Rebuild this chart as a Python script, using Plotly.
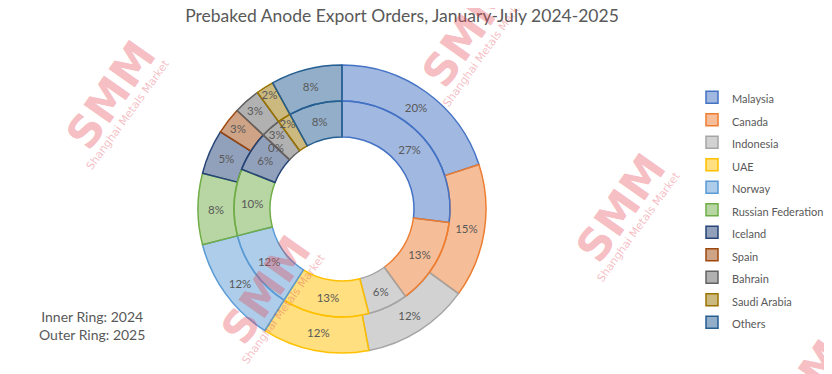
import math
import plotly.graph_objects as go

countries = ["Malaysia", "Canada", "Indonesia", "UAE", "Norway", "Russian Federation",
             "Iceland", "Spain", "Bahrain", "Saudi Arabia", "Others"]
share_2024 = [27, 13, 6, 13, 12, 10, 6, 0, 3, 2, 8]
share_2025 = [20, 15, 12, 12, 12, 8, 5, 3, 3, 2, 8]
base_colors = ["#4472C4", "#ED7D31", "#A5A5A5", "#FFC000", "#5B9BD5", "#70AD47",
               "#264478", "#9E480E", "#636363", "#997300", "#255E91"]

def rgba(h, a):
    h = h.lstrip("#")
    r, g, b = int(h[0:2], 16), int(h[2:4], 16), int(h[4:6], 16)
    return f"rgba({r},{g},{b},{a})"

fills = [rgba(c, 0.5) for c in base_colors]
W, H = 832, 374
OFF = 8  # page body margin offset

def px(x):
    return (x - OFF) / W

def py(y):
    return 1 - (y - OFF) / H

cx, cy = 342 - OFF, 209 - OFF
R_out, R_mid, R_in = 144, 108, 72

def dom(r):
    return dict(x=[(cx - r) / W, (cx + r) / W],
                y=[(H - cy - r) / H, (H - cy + r) / H])

legend_labels = [f"<span style='font-size:11px'>{c}</span>" for c in countries]
TXT = dict(color="#595959", size=11.5, family="Lato")

def templates(vals):
    return ["%{value}%" if v > 0 else "" for v in vals]

fig = go.Figure()
fig.add_trace(go.Pie(
    labels=legend_labels, values=share_2025, sort=False, direction="clockwise",
    rotation=0, hole=R_mid / R_out, domain=dom(R_out),
    marker=dict(colors=fills, line=dict(color=base_colors, width=1.5)),
    texttemplate=templates(share_2025), textposition="inside",
    insidetextorientation="horizontal", textfont=TXT,
    hoverinfo="label+value", showlegend=True,
))
fig.add_trace(go.Pie(
    labels=legend_labels, values=share_2024, sort=False, direction="clockwise",
    rotation=0, hole=R_in / R_mid, domain=dom(R_mid),
    marker=dict(colors=fills, line=dict(color=base_colors, width=1.5)),
    texttemplate=templates(share_2024), textposition="inside",
    insidetextorientation="horizontal", textfont=TXT,
    hoverinfo="label+value", showlegend=False,
))

wm_color = "rgba(228,70,85,0.36)"
annotations = []
wm_positions = [(110, 95), (466, 33), (620, 208), (265, 290), (800, 395)]
for (wx, wy) in wm_positions:
    annotations.append(dict(
        text="<b>SMM</b>", x=px(wx), y=py(wy), xref="paper", yref="paper",
        xanchor="center", yanchor="middle",
        showarrow=False, textangle=-55,
        font=dict(family="DejaVu Sans", size=44, color=wm_color),
    ))
    annotations.append(dict(
        text="Shanghai Metals Market", x=px(wx + 18), y=py(wy + 19), xref="paper", yref="paper",
        xanchor="center", yanchor="middle",
        showarrow=False, textangle=-54,
        font=dict(family="DejaVu Sans", size=11, color=wm_color),
    ))

annotations.append(
    dict(text="Inner Ring: 2024<br>Outer Ring: 2025", x=px(92), y=py(325),
         xanchor="center", yanchor="middle",
         xref="paper", yref="paper", showarrow=False, align="center",
         font=dict(family="Lato", size=14, color="#595959")))

# labels for zero-value slices (Plotly hides them), placed from the data
def zero_labels(vals, r_mid):
    total = sum(vals)
    cum = 0
    out = []
    for v in vals:
        if v == 0:
            ang = 2 * math.pi * cum / total
            x = cx + r_mid * math.sin(ang)
            y = cy - r_mid * math.cos(ang)
            out.append(dict(text=f"{v}%", x=x / W, y=1 - y / H, xref="paper", yref="paper",
                            xanchor="center", yanchor="middle",
                            showarrow=False, font=TXT))
        cum += v
    return out

annotations += zero_labels(share_2024, (R_in + R_mid) / 2)
annotations += zero_labels(share_2025, (R_mid + R_out) / 2)

fig.update_layout(
    width=W, height=H, paper_bgcolor="white", plot_bgcolor="white",
    margin=dict(l=0, r=0, t=0, b=0),
    title=dict(text="Prebaked Anode Export Orders, January-July 2024-2025",
               x=px(402), xanchor="center", y=py(16), yanchor="middle",
               font=dict(family="Lato", size=17.5, color="#595959")),
    legend=dict(x=px(692), xanchor="left", y=py(81), yanchor="top",
                font=dict(family="Lato", size=15, color="#595959"),
                bgcolor="rgba(0,0,0,0)"),
    uniformtext=dict(mode="show", minsize=11),
    annotations=annotations,
)
fig.write_html("out.html")
